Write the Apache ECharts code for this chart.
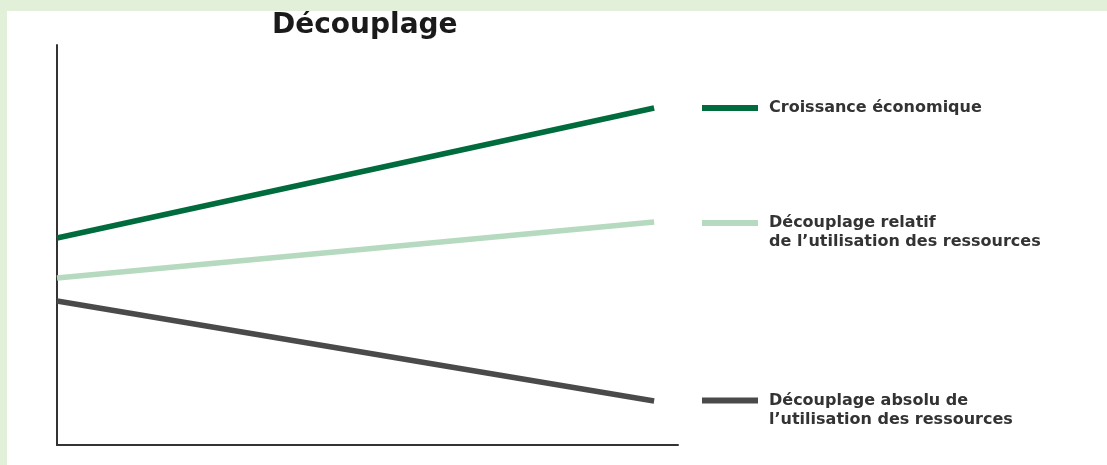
<!DOCTYPE html>
<html>
<head>
<meta charset="utf-8">
<script src="https://cdn.jsdelivr.net/npm/echarts@6/dist/echarts.min.js"></script>
<style>
  html, body { margin: 0; padding: 0; width: 1107px; height: 465px; background: #e2efd9; overflow: hidden; }
  #chart { position: absolute; left: 7px; top: 11px; width: 1100px; height: 454px; background: #ffffff; }
</style>
</head>
<body>
<div id="chart"></div>
<script>
// Data (conceptual chart: start and end of the period)
const periods = [0, 100];
const croissanceEconomique = [51.75, 84.25];
const decouplageRelatif = [41.75, 55.75];
const decouplageAbsolu = [36, 11];

const seriesNames = [
  'Croissance économique',
  'Découplage relatif\nde l\u2019utilisation des ressources',
  'Découplage absolu de\nl\u2019utilisation des ressources'
];
const seriesColors = ['#006b3c', '#b5dabf', '#4a4a4a'];
const seriesValues = [croissanceEconomique, decouplageRelatif, decouplageAbsolu];

const chart = echarts.init(document.getElementById('chart'), null, { renderer: 'canvas' });

const legendFont = { fontFamily: 'DejaVu Sans', fontWeight: 'bold', fontSize: 16, color: '#333333', lineHeight: 19, padding: [0, 0, 0, 6] };
const legendTops = [87.5, 183.5, 361];

const option = {
  animation: false,
  backgroundColor: '#ffffff',
  title: {
    text: 'Découplage',
    left: 265,
    top: 1,
    padding: 0,
    textStyle: { fontFamily: 'DejaVu Sans', fontWeight: 'bold', fontSize: 28, color: '#1a1a1a' }
  },
  grid: { left: 50, top: 34, width: 621, height: 400, containLabel: false },
  xAxis: {
    type: 'value', min: 0, max: 104,
    axisLine: { show: true, lineStyle: { color: '#333333', width: 2 } },
    axisTick: { show: false }, axisLabel: { show: false }, splitLine: { show: false }
  },
  yAxis: {
    type: 'value', min: 0, max: 100,
    axisLine: { show: true, lineStyle: { color: '#333333', width: 2 } },
    axisTick: { show: false }, axisLabel: { show: false }, splitLine: { show: false }
  },
  legend: seriesNames.map((name, i) => ({
    data: [name],
    left: 695,
    top: legendTops[i],
    padding: 0,
    icon: 'rect',
    itemWidth: 56,
    itemHeight: 6,
    selectedMode: false,
    // two-line labels: a leading blank line keeps the first line level with the swatch
    formatter: n => (n.indexOf('\n') >= 0 ? ' \n' + n : n),
    textStyle: legendFont
  })),
  series: seriesNames.map((name, i) => ({
    name: name,
    type: 'line',
    data: periods.map((p, j) => [p, seriesValues[i][j]]),
    symbol: 'none',
    color: seriesColors[i],
    lineStyle: { width: 5.5, color: seriesColors[i], cap: 'butt' }
  }))
};
chart.setOption(option);
</script>
</body>
</html>
